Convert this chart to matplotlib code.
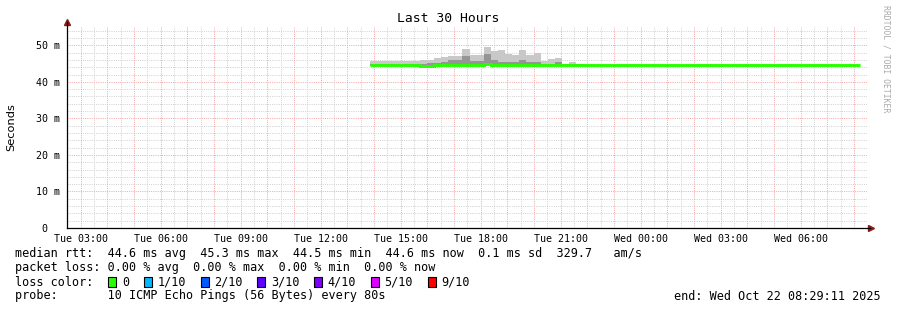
import numpy as np
import matplotlib.pyplot as plt
from matplotlib.patches import Rectangle

# time axis: hours since Tue 00:00
t_start = 2 + 29/60 + 11/3600
t_end = t_start + 30
bin_h = 16/60          # 12 x 80s steps per consolidated row
smoke_t0 = 13.85
tail_end = 32.22

# smoke (max ping) per bin, inner smoke and median, all in ms
smoke_top = [45.8, 45.8, 45.8, 45.7, 45.6, 45.7, 45.6, 46.0, 46.0, 46.4,
             46.7, 47.0, 47.0, 48.9, 47.4, 47.4, 49.6, 48.4, 48.6, 47.7,
             47.3, 48.6, 47.3, 47.9, 45.7, 46.2, 46.6, 44.9, 45.4, 45.0]
smoke_mid = [44.9, 44.9, 44.9, 44.9, 44.9, 44.9, 44.9, 45.0, 45.1, 45.2,
             45.3, 46.0, 46.0, 47.0, 45.8, 45.8, 47.5, 46.1, 45.5, 45.4,
             45.3, 46.1, 45.3, 45.4, 44.9, 45.0, 45.4, 44.8, 44.8, 44.8]
median = [44.6, 44.6, 44.6, 44.6, 44.6, 44.6, 44.6, 44.4, 44.4, 44.6,
          44.6, 44.6, 44.6, 44.7, 44.6, 44.6, 44.9, 44.6, 44.7, 44.7,
          44.6, 44.7, 44.6, 44.6, 44.5, 44.5, 44.5, 44.5, 44.5, 44.5]
tail_median = 44.6

xticks = [3, 6, 9, 12, 15, 18, 21, 24, 27, 30]
xlabels = ["Tue 03:00", "Tue 06:00", "Tue 09:00", "Tue 12:00", "Tue 15:00",
           "Tue 18:00", "Tue 21:00", "Wed 00:00", "Wed 03:00", "Wed 06:00"]
yticks = [0, 10, 20, 30, 40, 50]
ylabels = ["0  ", "10 m", "20 m", "30 m", "40 m", "50 m"]

loss_labels = ["0", "1/10", "2/10", "3/10", "4/10", "5/10", "9/10"]
loss_colors = ["#26ff00", "#00b8ff", "#0059ff", "#5e00ff", "#7e00ff", "#dd00ff", "#ff0000"]

W, H = 897, 310
mono = "DejaVu Sans Mono"
fig = plt.figure(figsize=(W/100, H/100), dpi=100)
ax = fig.add_axes([67/W, 82/H, 800/W, 201/H])
ax.set_xlim(t_start, t_end)
ax.set_ylim(0, 55)

# dotted grid
for h in np.arange(3, 33, 0.5):
    major = float(h).is_integer()
    ax.axvline(h, color="#f4a8a8" if major else "#d2d2d2", lw=0.72,
               ls=(0, (1, 1.2)), zorder=1 if major else 0)
for v in range(2, 56, 2):
    major = v % 10 == 0
    ax.axhline(v, color="#f4a8a8" if major else "#d2d2d2", lw=0.72,
               ls=(0, (1, 1.2)), zorder=1 if major else 0)

# smoke
n = len(smoke_top)
left = smoke_t0 + bin_h * np.arange(n)
bottom = np.array(median) - 0.15
ax.bar(left, np.array(smoke_top) - bottom, bottom=bottom, width=bin_h,
       align="edge", color="#c8c8c8", lw=0, zorder=2)
ax.bar(left, np.array(smoke_mid) - bottom, bottom=bottom, width=bin_h,
       align="edge", color="#959595", lw=0, zorder=3)

# median line
edges = np.append(smoke_t0 + bin_h * np.arange(n + 1), tail_end)
ax.stairs(median + [tail_median], edges, color="#26ff00", lw=2.1,
          baseline=None, zorder=4)

for s in ax.spines.values():
    s.set_visible(False)
ax.plot([0, 0], [0, 1.025], color="black", lw=0.9, transform=ax.transAxes, clip_on=False, zorder=5)
ax.plot([0, 1.004], [0, 0], color="black", lw=0.9, transform=ax.transAxes, clip_on=False, zorder=5)
ax.plot([0], [1.025], marker="^", ms=4, color="#8b1a1a", transform=ax.transAxes, clip_on=False)
ax.plot([1.005], [0], marker=">", ms=4, color="#8b1a1a", transform=ax.transAxes, clip_on=False)

ax.set_xticks(xticks)
ax.set_xticklabels(xlabels, family=mono, fontsize=7.2)
ax.set_yticks(yticks)
ax.set_yticklabels(ylabels, family=mono, fontsize=7.2)
ax.tick_params(length=0, pad=4)
ax.tick_params(axis="y", pad=5)

fig.text(0.5, 1 - 19/H, "Last 30 Hours", family=mono, fontsize=9.4, ha="center", va="center")
fig.text(11/W, 1 - 127/H, "Seconds", family="DejaVu Sans", fontsize=8.2,
         rotation=90, ha="center", va="center")
fig.text(886/W, 1 - 5/H, "RRDTOOL / TOBI OETIKER", family=mono, fontsize=5.9,
         color="#aaaaaa", rotation=-90, ha="center", va="top")

# legend block
cw = 7.1
x0 = 15.4
def put(col, y, s, **kw):
    fig.text((x0 + col * cw)/W, 1 - y/H, s, family=mono, fontsize=8.5, va="center", **kw)

put(0, 254, "median rtt:  44.6 ms avg  45.3 ms max  44.5 ms min  44.6 ms now  0.1 ms sd  329.7   am/s")
put(0, 268, "packet loss: 0.00 % avg  0.00 % max  0.00 % min  0.00 % now")
put(0, 282, "loss color:")
col = 13
for lab, c in zip(loss_labels, loss_colors):
    bx = x0 + col * cw + 0.5
    fig.patches.append(Rectangle((bx/W, 1 - 287/H), 8/W, 10/H, facecolor=c,
                                 edgecolor="black", lw=0.8, transform=fig.transFigure))
    put(col + 2, 282, lab)
    col += 2 + len(lab) + 2
put(0, 296, "probe:       10 ICMP Echo Pings (56 Bytes) every 80s")
fig.text(881/W, 1 - 296/H, "end: Wed Oct 22 08:29:11 2025", family=mono, fontsize=8.5,
         va="center", ha="right")

fig.savefig("out.png", dpi=100)
